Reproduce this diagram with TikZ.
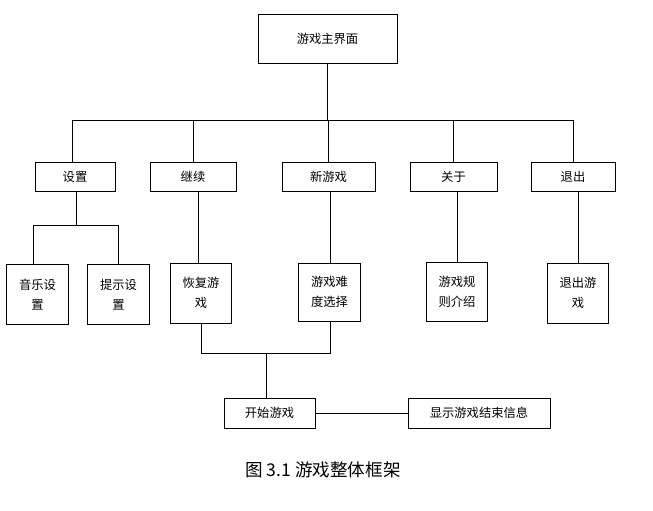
\documentclass[tikz,border=0pt]{standalone}
\usepackage{fontspec}
\setmainfont{Noto Sans CJK SC}
\usetikzlibrary{positioning,calc}
\tikzset{
  box/.style={draw, thick, minimum height=8.7mm, align=center, inner sep=1pt, font=\fontsize{10.5}{13}\selectfont},
  leaf/.style={draw, thick, minimum width=18.5mm, minimum height=18mm, align=center, inner sep=1pt, font=\fontsize{10.5}{17}\selectfont},
  wire/.style={thick},
}
\begin{document}
\begin{tikzpicture}[x=0.03cm, y=-0.03cm]
\useasboundingbox (0,0) rectangle (653,510);
\node (main) [box, minimum width=41.7mm, minimum height=14.7mm] at (327.5,38.5) {游戏主界面};
\node (set)  [box, minimum width=24mm] at (75,176.5) {设置};
\node (cont) [box, minimum width=25.8mm] at (193,176.5) {继续};
\node (new)  [box, minimum width=27.9mm] at (328.5,176.5) {新游戏};
\node (about)[box, minimum width=26.1mm] at (453.5,176.5) {关于};
\node (quit) [box, minimum width=25.2mm] at (573,176.5) {退出};
\node (music)[leaf] at (37.5,294.5) {音乐设\\置};
\node (hint) [leaf] at (118.5,294.5) {提示设\\置};
\node (resume)[leaf, minimum height=18mm] at (201,293) {恢复游\\戏};
\node (diff) [leaf, minimum height=17.4mm] at (329.5,292) {游戏难\\度选择};
\node (rules)[leaf, minimum height=17.7mm] at (457,291.5) {游戏规\\则介绍};
\node (exit) [leaf, minimum height=18mm] at (578,293) {退出游\\戏};
\node (start)[box, minimum width=27.3mm, minimum height=9mm] at (269.5,413) {开始游戏};
\node (over) [box, minimum width=42.6mm, minimum height=9mm] at (479,413) {显示游戏结束信息};
\node (cap) [font=\fontsize{15}{18}\selectfont] at (323,470) {图 3.1 游戏整体框架};

% main branches
\coordinate (bus) at (main.south |- 0,120);
\draw[wire] (main.south) -- (bus);
\draw[wire] (set.north -| 72,0) |- (quit.north |- bus) -- (quit.north);
\foreach \n in {cont,new,about} \draw[wire] (\n.north) -- (\n.north |- bus);

% settings
\coordinate (sbus) at (76,225);
\draw[wire] (set.south -| sbus) -- (sbus);
\draw[wire] (music.north -| 33,0) -- (33,225) -- (118,225) -- (hint.north -| 118,0);

% sub items
\draw[wire] (cont.south -| 198,0) -- (resume.north -| 198,0);
\draw[wire] (new.south -| 330,0) -- (diff.north -| 330,0);
\draw[wire] (about.south -| 457,0) -- (rules.north);
\draw[wire] (quit.south -| 578,0) -- (exit.north);

% start
\draw[wire] (resume.south) -- (201,353) -- (330,353) -- (diff.south -| 330,0);
\draw[wire] (266,353) -- (start.north -| 266,0);
\draw[wire] (start) -- (over);
\end{tikzpicture}
\end{document}
